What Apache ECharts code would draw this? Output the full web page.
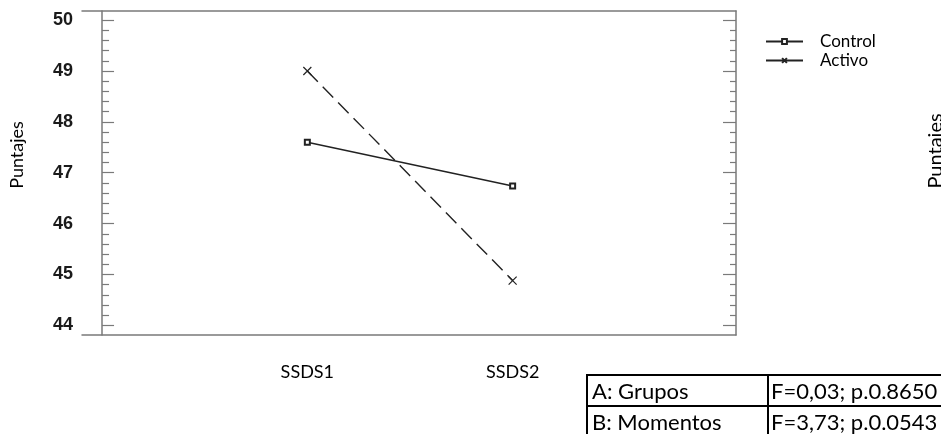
<!DOCTYPE html>
<html>
<head>
<meta charset="utf-8">
<script src="https://cdn.jsdelivr.net/npm/echarts@6/dist/echarts.min.js"></script>
<style>html,body{margin:0;padding:0;background:#fff}#c{width:941px;height:434px}</style>
</head>
<body>
<div id="c"></div>
<script>
const categories = ['SSDS1', 'SSDS2'];
const seriesNames = ['Control', 'Activo'];
const controlValues = [47.6, 46.74];
const activoValues = [49.0, 44.88];
const yTicks = [44, 45, 46, 47, 48, 49, 50];
const yMinorTicks = [43.8, 44.2, 44.4, 44.6, 44.8, 45.2, 45.4, 45.6, 45.8, 46.2, 46.4, 46.6, 46.8, 47.2, 47.4, 47.6, 47.8, 48.2, 48.4, 48.6, 48.8, 49.2, 49.4, 49.6, 49.8, 50.2];
const yAxisName = 'Puntajes';
const tableRows = [['A: Grupos', 'F=0,03; p.0.8650'], ['B: Momentos', 'F=3,73; p.0.0543']];

const chart = echarts.init(document.getElementById('c'), null, {renderer: 'canvas'});
const frame = '#7a7a7a';
const ink = '#222';
const yMin = 43.81, yMax = 50.18;
const xMin = -0.0976, xMax = 3.088;
const crossPath = 'path://M0,0L10,10M10,0L0,10';
const sans = 'Lato, "Open Sans", sans-serif';

function yAx(pos, ticks, len, show) {
  return {
    type: 'value', position: pos, min: yMin, max: yMax,
    axisLine: {show: show, lineStyle: {color: frame, width: 1.5}},
    splitLine: {show: false},
    axisTick: {show: true, inside: true, length: len, customValues: ticks, lineStyle: {color: frame, width: 1.2}},
    axisLabel: {show: false}
  };
}

const yAxes = [
  Object.assign(yAx('left', yTicks, 12, true), {
    axisLabel: {show: true, customValues: yTicks, margin: 9, color: '#1a1a1a',
      fontFamily: '"Liberation Sans Narrow", "Liberation Sans", Arial', fontWeight: 'bold', fontSize: 18}
  }),
  yAx('left', yMinorTicks, 7, false),
  yAx('right', yTicks, 13, true),
  yAx('right', yMinorTicks, 6, false)
];

const tableGraphics = [];
const tx = 587, tMid = 768, tRight = 960, tTop = 375, rowH = 31;
tableRows.forEach((row, i) => {
  const y0 = tTop + i * rowH;
  tableGraphics.push({type: 'rect', shape: {x: tx, y: y0, width: tMid - tx, height: rowH}, style: {fill: 'none', stroke: '#000', lineWidth: 2}});
  tableGraphics.push({type: 'rect', shape: {x: tMid, y: y0, width: tRight - tMid, height: rowH}, style: {fill: 'none', stroke: '#000', lineWidth: 2}});
  tableGraphics.push({type: 'text', x: tx + 5, y: y0 + rowH / 2 + 1, style: {text: row[0], fill: '#000', font: '22px ' + sans, verticalAlign: 'middle'}});
  tableGraphics.push({type: 'text', x: tMid + 3, y: y0 + rowH / 2 + 1, style: {text: row[1], fill: '#000', font: '22px ' + sans, verticalAlign: 'middle'}});
});

chart.setOption({
  backgroundColor: '#fff',
  animation: false,
  grid: {left: 82, right: 205, top: 11, bottom: 99, containLabel: false},
  legend: {
    orient: 'vertical', left: 760, top: 28, itemWidth: 37, itemHeight: 6, itemGap: 2,
    data: [
      {name: seriesNames[0]},
      {name: seriesNames[1], lineStyle: {type: 'solid'}}
    ],
    textStyle: {fontFamily: sans, fontSize: 17, color: '#000', padding: [0, 0, 0, 12]}
  },
  xAxis: [
    {
      type: 'value', position: 'bottom', min: xMin, max: xMax,
      axisLine: {show: true, lineStyle: {color: frame, width: 1.5}},
      axisTick: {show: false}, splitLine: {show: false},
      axisLabel: {show: true, customValues: categories.map((c, i) => i + 1), margin: 28,
        formatter: v => categories[Math.round(v) - 1] || '',
        fontFamily: sans, fontSize: 18, color: '#000'}
    },
    {
      type: 'value', position: 'top', min: xMin, max: xMax,
      axisLine: {show: true, onZero: false, lineStyle: {color: frame, width: 1.5}},
      axisTick: {show: false}, splitLine: {show: false}, axisLabel: {show: false}
    }
  ],
  yAxis: yAxes,
  series: [
    {
      name: seriesNames[0], type: 'line', xAxisIndex: 0, yAxisIndex: 0,
      data: categories.map((c, i) => [i + 1, controlValues[i]]),
      symbol: 'emptyRect', symbolSize: 5,
      lineStyle: {color: ink, width: 1.4, type: 'solid'},
      itemStyle: {color: ink, borderColor: ink, borderWidth: 1}
    },
    {
      name: seriesNames[1], type: 'line', xAxisIndex: 0, yAxisIndex: 0,
      data: categories.map((c, i) => [i + 1, activoValues[i]]),
      symbol: crossPath, symbolSize: 8,
      lineStyle: {color: ink, width: 1.4, type: [15, 7]},
      itemStyle: {color: ink, borderColor: ink, borderWidth: 1.2}
    }
  ],
  graphic: [
    {type: 'text', x: 17, y: 155, rotation: Math.PI / 2,
      style: {text: yAxisName, fill: '#000', font: '18px ' + sans, align: 'center', verticalAlign: 'middle'}},
    {type: 'text', x: 936, y: 151, rotation: Math.PI / 2,
      style: {text: yAxisName, fill: '#000', font: '20px ' + sans, align: 'center', verticalAlign: 'middle'}}
  ].concat(tableGraphics)
});
</script>
</body>
</html>
